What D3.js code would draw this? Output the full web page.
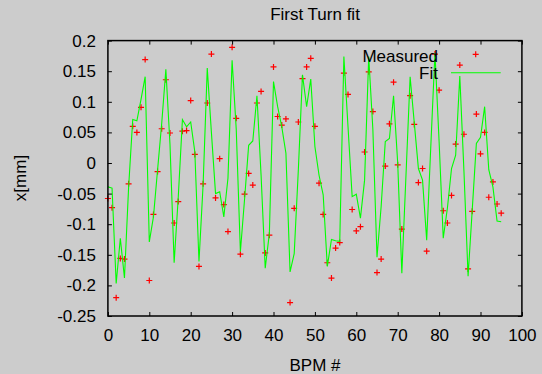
<!DOCTYPE html>
<html>
<head>
<meta charset="utf-8">
<script src="https://cdn.jsdelivr.net/npm/d3@7"></script>
<style>
  html, body { margin: 0; padding: 0; background: #cccccc; }
  svg { display: block; }
  text { font-family: "Liberation Sans", Arial, sans-serif; fill: #000; }
</style>
</head>
<body>
<svg id="chart" width="542" height="374"></svg>
<script>
// ---- data ----
const title = "First Turn fit";
const xLabel = "BPM #";
const yLabel = "x[mm]";
const seriesNames = ["Measured", "Fit"];
const xTicks = [0, 10, 20, 30, 40, 50, 60, 70, 80, 90, 100];
const yTicks = [-0.25, -0.2, -0.15, -0.1, -0.05, 0, 0.05, 0.1, 0.15, 0.2];
const measured = [
  -0.058, -0.073, -0.220, -0.156, -0.157, -0.034, 0.060, 0.050, 0.091, 0.169,
  -0.192, -0.084, -0.014, 0.056, 0.136, 0.049, -0.098, -0.063, 0.052, 0.053,
  0.102, 0.014, -0.169, -0.034, 0.098, 0.178, -0.057, 0.007, -0.068, -0.112,
  0.189, 0.073, -0.149, -0.051, -0.017, -0.036, 0.098, 0.117, -0.147, -0.118,
  0.157, 0.076, 0.062, 0.072, -0.228, -0.074, 0.067, 0.138, 0.157, 0.171,
  0.060, -0.033, -0.084, -0.163, -0.188, -0.139, -0.130, 0.147, 0.112, -0.076,
  -0.111, -0.104, 0.018, 0.149, 0.084, -0.179, -0.157, -0.005, 0.064, 0.132,
  -0.003, -0.108, null, 0.110, 0.063, -0.032, -0.009, -0.144, null, 0.178,
  0.119, -0.078, -0.098, -0.053, 0.031, 0.160, 0.047, -0.173, -0.079, 0.080,
  0.015, 0.050, -0.056, -0.031, -0.067, -0.082
];
const fit = [
  -0.039, -0.041, -0.197, -0.123, -0.188, -0.040, 0.071, 0.069, 0.104, 0.141,
  -0.129, -0.088, -0.011, 0.065, 0.153, 0.030, -0.163, -0.055, 0.071, 0.059,
  0.067, 0.018, -0.161, -0.035, 0.155, 0.050, -0.050, -0.047, -0.088, -0.025,
  0.168, 0.055, -0.145, -0.060, 0.029, 0.036, 0.110, -0.020, -0.172, -0.115,
  0.133, 0.092, 0.059, 0.016, -0.178, -0.148, -0.011, 0.144, 0.092, 0.137,
  0.027, -0.020, -0.052, -0.169, -0.125, -0.127, -0.128, 0.174, 0.059, -0.055,
  -0.051, -0.090, -0.028, 0.174, 0.055, -0.154, -0.071, 0.035, 0.040, 0.110,
  0.000, -0.180, -0.020, 0.141, 0.066, -0.009, -0.028, -0.126, 0.028, 0.180,
  0.035, -0.123, -0.074, -0.009, 0.013, 0.142, -0.013, -0.185, -0.077, 0.032,
  0.042, 0.092, -0.011, -0.039, -0.095, -0.096
];

// ---- layout ----
const svg = d3.select("#chart");
const mLeft = 107.9, mRight = 521.9, mTop = 40.6, mBottom = 316;
const fs = 17;
const x = d3.scaleLinear().domain([0, 100]).range([mLeft, mRight]);
const y = d3.scaleLinear().domain([-0.25, 0.2]).range([mBottom, mTop]);

svg.append("rect").attr("width", 542).attr("height", 374).attr("fill", "#cccccc");

// points
const pts = measured.map((v, i) => ({i, v})).filter(d => d.v !== null);
const arm = 3;
function plus(g, cx, cy) {
  g.append("path")
    .attr("d", `M${cx - arm},${cy}H${cx + arm}M${cx},${cy - arm}V${cy + arm}`)
    .attr("stroke", "#ff0000").attr("stroke-width", 1.2).attr("fill", "none");
}
const pg = svg.append("g");
pts.forEach(d => plus(pg, x(d.i), y(d.v)));

// fit line
const line = d3.line().x((d, i) => x(i)).y(d => y(d));
svg.append("path").datum(fit)
  .attr("d", line)
  .attr("fill", "none")
  .attr("stroke", "#00ff00")
  .attr("stroke-width", 1.1)
  .attr("stroke-linejoin", "miter");

// axes
const fmtY = d => (d === 0 ? "0" : String(+d.toFixed(2)));
const ax = svg.append("g").attr("transform", `translate(0,${mBottom})`)
  .call(d3.axisBottom(x).tickValues(xTicks).tickSizeInner(-4).tickSizeOuter(0).tickPadding(13.4).tickFormat(d3.format("d")));
const ay = svg.append("g").attr("transform", `translate(${mLeft},0)`)
  .call(d3.axisLeft(y).tickValues(yTicks).tickSizeInner(-4).tickSizeOuter(0).tickPadding(12).tickFormat(fmtY));
const at = svg.append("g").attr("transform", `translate(0,${mTop})`)
  .call(d3.axisTop(x).tickValues(xTicks).tickSizeInner(-4).tickSizeOuter(0).tickFormat(""));
const ar = svg.append("g").attr("transform", `translate(${mRight},0)`)
  .call(d3.axisRight(y).tickValues(yTicks).tickSizeInner(-4).tickSizeOuter(0).tickFormat(""));
[ax, ay, at, ar].forEach(g => {
  g.select(".domain").remove();
  g.selectAll(".tick line").attr("stroke", "#000").attr("stroke-width", 1);
  g.selectAll(".tick text").attr("font-size", fs).attr("font-family", "Liberation Sans, Arial, sans-serif").attr("fill", "#000");
});

// frame
svg.append("rect")
  .attr("x", mLeft).attr("y", mTop)
  .attr("width", mRight - mLeft).attr("height", mBottom - mTop)
  .attr("fill", "none").attr("stroke", "#000").attr("stroke-width", 1.5);

// title & labels
svg.append("text").attr("x", 315).attr("y", 19.7).attr("text-anchor", "middle")
  .attr("font-size", fs).text(title);
svg.append("text").attr("x", 315).attr("y", 370.5).attr("text-anchor", "middle")
  .attr("font-size", fs).text(xLabel);
svg.append("text").attr("transform", `translate(26,178) rotate(-90)`).attr("text-anchor", "middle")
  .attr("font-size", fs).text(yLabel);

// legend
const legX = 438;
svg.append("text").attr("x", legX).attr("y", 61.7).attr("text-anchor", "end")
  .attr("font-size", fs).text(seriesNames[0]);
svg.append("text").attr("x", legX).attr("y", 79.3).attr("text-anchor", "end")
  .attr("font-size", fs).text(seriesNames[1]);
plus(svg.append("g"), 475.7, 54.3);
svg.append("line").attr("x1", 451).attr("x2", 500.7).attr("y1", 72.7).attr("y2", 72.7)
  .attr("stroke", "#00ff00").attr("stroke-width", 1.1);
</script>
</body>
</html>
